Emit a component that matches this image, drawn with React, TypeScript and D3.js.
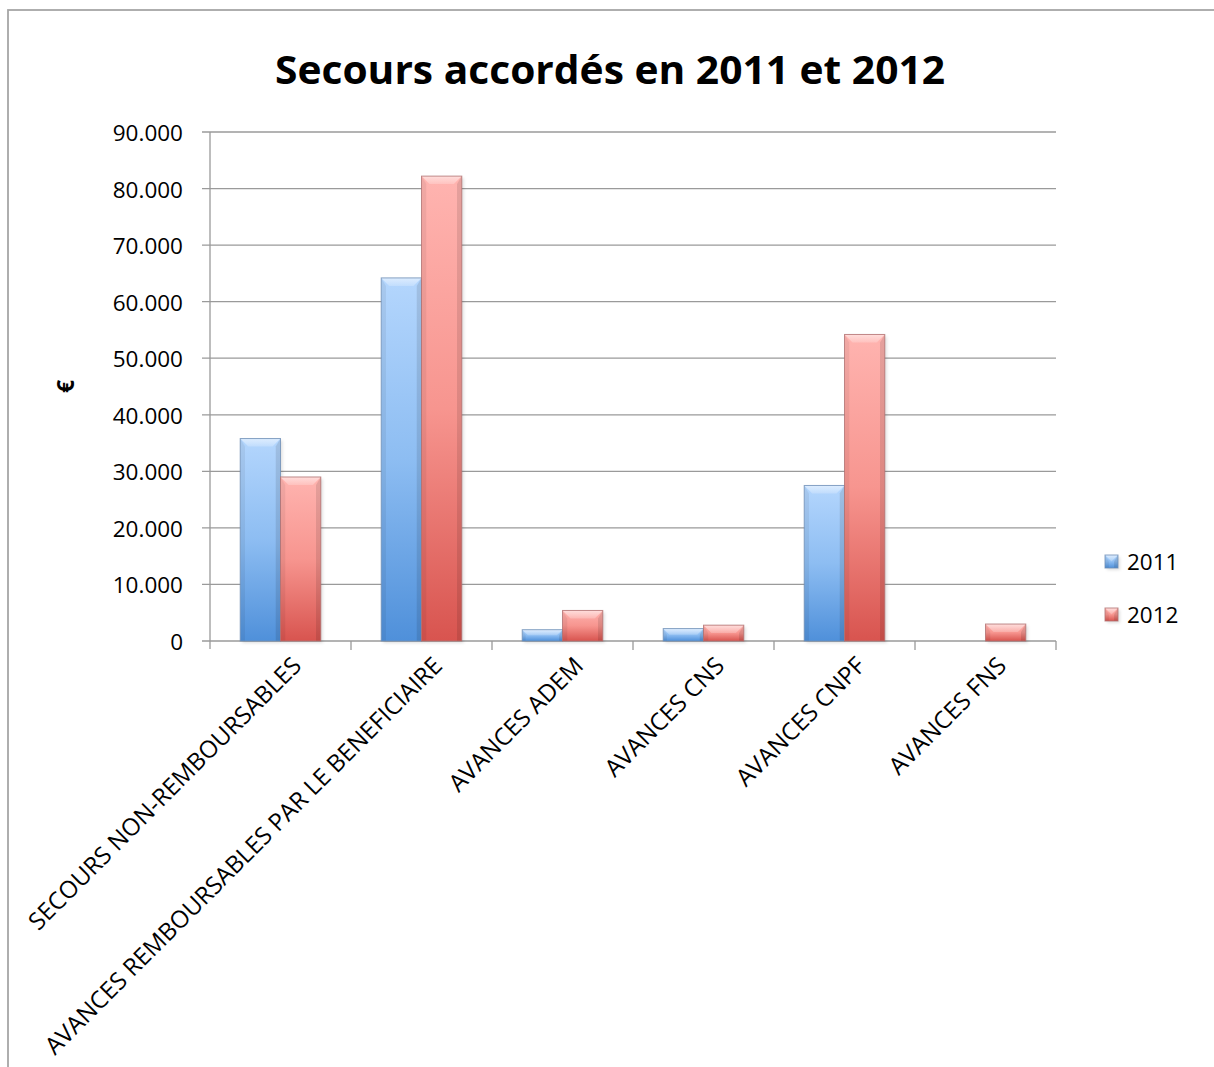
import React from "react";
import * as d3 from "d3";

const categories = [
  "SECOURS NON-REMBOURSABLES",
  "AVANCES REMBOURSABLES PAR LE BENEFICIAIRE",
  "AVANCES ADEM",
  "AVANCES CNS",
  "AVANCES CNPF",
  "AVANCES FNS",
];
const seriesNames = ["2011", "2012"];
const values2011 = [35800, 64200, 2000, 2200, 27500, 0];
const values2012 = [29000, 82200, 5400, 2800, 54200, 3000];
const yTicks = [0, 10000, 20000, 30000, 40000, 50000, 60000, 70000, 80000, 90000];
const yTickLabels = ["0", "10.000", "20.000", "30.000", "40.000", "50.000", "60.000", "70.000", "80.000", "90.000"];
const title = "Secours accordés en 2011 et 2012";
const yTitle = "€";

const W = 1214;
const H = 1067;
const plot = { left: 210, right: 1056, top: 132, bottom: 641 };
const FONT = "'Open Sans', 'Noto Sans', sans-serif";

const palettes = [
  { top: "#b4d6fd", mid: "#8dbdf2", bot: "#4f90da", stroke: "#6f8fb5", id: "g2011" },
  { top: "#ffb4b0", mid: "#f7958f", bot: "#d8544f", stroke: "#b07070", id: "g2012" },
];

function Bar({ x, y, w, h, p }: { x: number; y: number; w: number; h: number; p: typeof palettes[0] }) {
  if (h <= 0) return null;
  const b = Math.min(8, h / 2, w / 2);
  return (
    <g>
      <rect x={x + 2} y={y + 2} width={w} height={h} fill="rgba(0,0,0,0.12)" filter="url(#blur)" />
      <rect x={x} y={y} width={w} height={h} fill={`url(#${p.id})`} />
      <polygon
        points={`${x},${y} ${x + w},${y} ${x + w - b},${y + b} ${x + b},${y + b}`}
        fill="url(#topBevel)"
      />
      <polygon
        points={`${x},${y} ${x + b * 0.6},${y + b} ${x + b * 0.6},${y + h} ${x},${y + h}`}
        fill="rgba(0,0,0,0.06)"
      />
      <polygon
        points={`${x + w},${y} ${x + w - b * 0.6},${y + b} ${x + w - b * 0.6},${y + h} ${x + w},${y + h}`}
        fill="rgba(0,0,0,0.1)"
      />
      <rect x={x} y={y} width={w} height={h} fill="none" stroke={p.stroke} strokeOpacity={0.8} strokeWidth={1} />
    </g>
  );
}

export default function App() {
  const y = d3.scaleLinear().domain([0, 90000]).range([plot.bottom, plot.top]);
  const x0 = d3.scaleBand().domain(categories).range([plot.left, plot.right]).paddingInner(0).paddingOuter(0);
  const step = x0.bandwidth();
  const barW = step / 3.5;
  const x1 = d3
    .scaleBand()
    .domain(seriesNames)
    .range([(step - 2 * barW) / 2, (step + 2 * barW) / 2]);
  const data = [values2011, values2012];

  return (
    <svg width={W} height={H} style={{ display: "block", position: "absolute", left: 0, top: 0 }}>
      <defs>
        {palettes.map((p) => (
          <linearGradient key={p.id} id={p.id} x1="0" y1="0" x2="0" y2="1">
            <stop offset="0%" stopColor={p.top} />
            <stop offset="50%" stopColor={p.mid} />
            <stop offset="100%" stopColor={p.bot} />
          </linearGradient>
        ))}
        <linearGradient id="topBevel" x1="0" y1="0" x2="0" y2="1">
          <stop offset="0%" stopColor="#ffffff" stopOpacity={0.55} />
          <stop offset="100%" stopColor="#ffffff" stopOpacity={0.2} />
        </linearGradient>
        <filter id="blur" x="-20%" y="-20%" width="140%" height="140%">
          <feGaussianBlur stdDeviation="1.5" />
        </filter>
      </defs>
      <rect x={0} y={0} width={W} height={H} fill="#ffffff" />
      {/* chart border */}
      <rect x={8} y={10} width={W + 20} height={H + 20} fill="none" stroke="#a6a6a6" strokeWidth={1.8} />

      <text
        x={610}
        y={84}
        textAnchor="middle"
        fontFamily={FONT}
        fontWeight="bold"
        fontSize={39}
        textLength={670}
        lengthAdjust="spacingAndGlyphs"
        fill="#000"
      >
        {title}
      </text>

      {/* gridlines and y ticks */}
      {yTicks.map((t, i) => (
        <g key={t}>
          <line x1={plot.left - 8} x2={plot.right} y1={y(t)} y2={y(t)} stroke="#9a9a9a" strokeWidth={1.3} />
          <text x={183} y={y(t) + 9} textAnchor="end" fontFamily={FONT} fontSize={22.5} fill="#000">
            {yTickLabels[i]}
          </text>
        </g>
      ))}
      <line x1={plot.left} x2={plot.left} y1={plot.top} y2={plot.bottom + 8} stroke="#9a9a9a" strokeWidth={1.3} />
      {categories.map((c, i) => (
        <line
          key={"t" + i}
          x1={x0(c)! + step}
          x2={x0(c)! + step}
          y1={plot.bottom}
          y2={plot.bottom + 9}
          stroke="#9a9a9a"
          strokeWidth={1.3}
        />
      ))}

      <text
        transform={`translate(65,${(plot.top + plot.bottom) / 2}) rotate(-90)`}
        textAnchor="middle"
        dominantBaseline="central"
        fontFamily={FONT}
        fontWeight="bold"
        fontSize={23}
        fill="#000"
      >
        {yTitle}
      </text>

      {/* bars */}
      {categories.map((c, i) => (
        <g key={c}>
          {seriesNames.map((s, si) => {
            const v = data[si][i];
            const bx = x0(c)! + x1(s)!;
            const by = y(v);
            return <Bar key={s} x={bx} y={by} w={x1.bandwidth()} h={plot.bottom - by} p={palettes[si]} />;
          })}
        </g>
      ))}

      {/* x labels */}
      {categories.map((c) => {
        const cx = x0(c)! + step / 2;
        return (
          <text
            key={"l" + c}
            transform={`translate(${cx + 10},${plot.bottom + 14}) rotate(-45)`}
            textAnchor="end"
            dy="0.72em"
            fontFamily={FONT}
            fontSize={24}
            fill="#000"
          >
            {c}
          </text>
        );
      })}

      {/* legend */}
      {seriesNames.map((s, si) => {
        const ly = 570 + si * 53;
        return (
          <g key={"lg" + s}>
            <Bar x={1105} y={ly - 15} w={13} h={13} p={palettes[si]} />
            <text x={1127} y={ly} fontFamily={FONT} fontSize={22.5} fill="#000">
              {s}
            </text>
          </g>
        );
      })}
    </svg>
  );
}
